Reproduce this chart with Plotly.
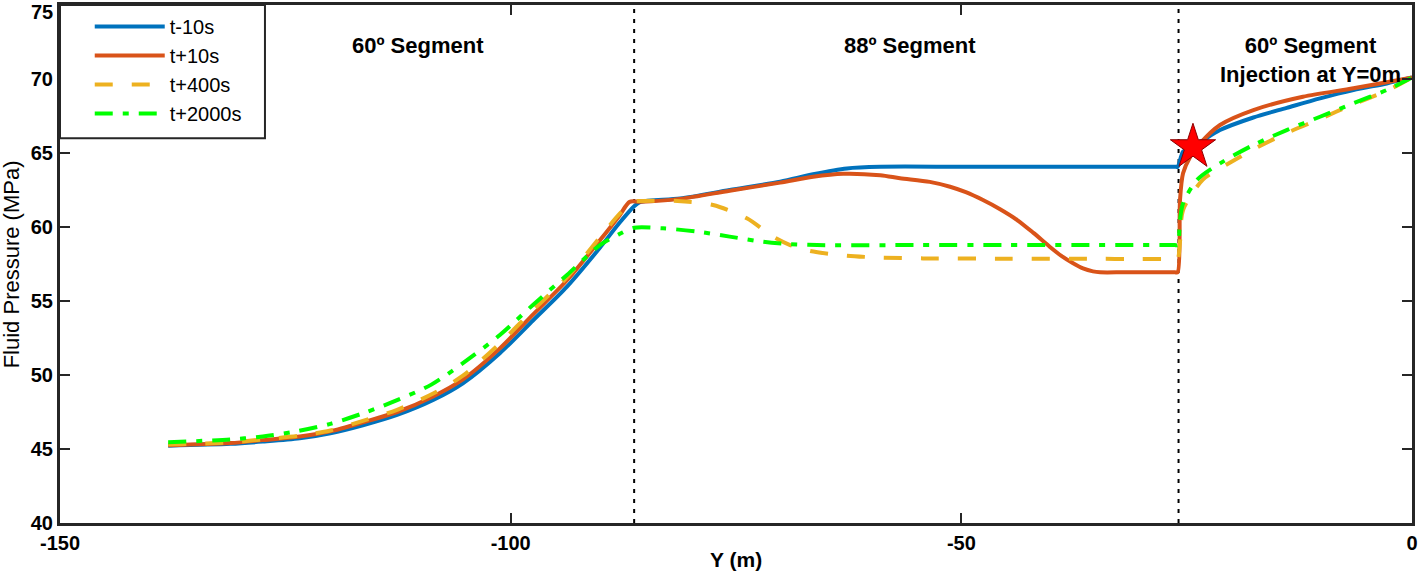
import plotly.graph_objects as go

# ---------------- data ----------------
y_blue = [-138.0, -131.1, -127.5, -123.4, -120.0, -116.4, -112.6, -108.6, -105.3, -101.2, -97.5, -93.75, -90.1, -87.9, -86.3,
          -85.6, -81.2, -75.7, -70.1, -66.45, -62.7, -59.0, -50.0, -40.0, -30.0, -27.0, -26.3, -26.0, -25.7, -25.4, -24.3, -23.2,
          -21.3, -17.6, -13.9, -10.2, -6.5, -2.8, 0.0]
p_blue = [45.22, 45.35, 45.5, 45.72, 46.06, 46.6, 47.3, 48.31, 49.44, 51.47, 53.7, 55.97, 58.6, 60.3, 61.4,
          61.7, 61.93, 62.5, 63.06, 63.56, 63.96, 64.07, 64.07, 64.07, 64.07, 64.07, 64.07, 64.07, 64.6, 65.09, 65.45, 65.85,
          66.55, 67.4, 68.05, 68.69, 69.25, 69.7, 70.1]

y_t10 = [-138.0, -131.1, -127.5, -123.4, -120.0, -116.4, -112.6, -108.6, -105.3, -101.2, -97.5, -93.75, -90.1, -87.9, -86.8,
         -85.6, -81.2, -75.7, -70.1, -66.45, -63.1, -59.0, -56.8, -53.5, -51.25, -49.5, -47.6, -45.7, -43.8, -42.0, -40.2, -38.9,
         -37.6, -36.5, -35.4, -34.6, -32.0, -29.0, -27.0, -26.3, -26.0, -25.74, -25.4, -24.6, -23.5, -21.3, -17.6, -12.1, -6.5, -1.0, 0.0]
p_t10 = [45.25, 45.4, 45.6, 45.85, 46.2, 46.8, 47.5, 48.55, 49.7, 51.8, 54.1, 56.4, 59.1, 60.8, 61.7,
         61.7, 61.9, 62.45, 63.0, 63.4, 63.6, 63.5, 63.3, 63.05, 62.72, 62.35, 61.82, 61.2, 60.47, 59.6, 58.67, 58.05,
         57.55, 57.2, 57.0, 56.94, 56.94, 56.94, 56.94, 56.94, 56.94, 61.82, 63.63, 64.75, 65.65, 66.89, 67.9, 68.8, 69.37, 69.98, 70.1]

y_t400 = [-138.0, -131.1, -127.5, -123.4, -120.0, -116.4, -112.6, -108.6, -105.3, -101.2, -97.5, -93.75, -90.1, -87.9, -86.5,
          -85.6, -81.5, -77.55, -73.8, -70.9, -69.0, -66.8, -62.7, -58.7, -54.25, -45.0, -35.0, -30.0, -27.0, -26.3, -26.0,
          -25.74, -25.4, -23.2, -21.3, -17.6, -13.9, -10.2, -6.5, -2.8, 0.0]
p_t400 = [45.3, 45.45, 45.65, 45.9, 46.25, 46.9, 47.65, 48.75, 49.95, 52.14, 54.4, 56.6, 59.3, 60.9, 61.7,
          61.76, 61.76, 61.49, 60.59, 59.35, 58.78, 58.38, 58.06, 57.93, 57.88, 57.86, 57.85, 57.84, 57.84, 57.84, 57.84,
          59.0, 61.15, 63.2, 63.95, 65.25, 66.35, 67.3, 68.3, 69.2, 70.1]

y_t2000 = [-138.0, -131.1, -127.5, -123.7, -120.0, -116.4, -112.6, -108.8, -105.3, -101.2, -97.5, -93.75, -90.1, -88.0, -86.3,
           -83.1, -79.3, -75.7, -72.0, -69.3, -66.0, -55.0, -45.0, -35.0, -30.0, -27.0, -26.3, -26.0,
           -25.74, -25.4, -23.85, -21.3, -17.6, -13.9, -10.2, -6.5, -2.8, 0.0]
p_t2000 = [45.45, 45.65, 45.85, 46.2, 46.7, 47.41, 48.3, 49.35, 50.8, 52.7, 54.75, 56.76, 58.78, 59.5, 59.95,
           59.91, 59.69, 59.35, 59.0, 58.85, 58.78, 58.78, 58.78, 58.78, 58.78, 58.78, 58.78, 58.78,
           60.47, 61.6, 63.18, 64.3, 65.54, 66.55, 67.45, 68.36, 69.26, 70.1]

star_y = [-24.3]
star_p = [65.4]

boundaries = [-86.3, -25.9]
seg_labels = ["60º Segment", "88º Segment", "60º Segment<br>Injection at Y=0m"]
seg_x = [-110.3, -55.7, -11.3]

x_ticks = [-150, -100, -50, 0]
y_ticks = [40, 45, 50, 55, 60, 65, 70, 75]

FONT = "Arial, Liberation Sans, Helvetica, sans-serif"

# ---------------- figure ----------------
fig = go.Figure()
fig.add_trace(go.Scatter(x=y_blue, y=p_blue, mode="lines", name="t-10s",
                         line=dict(color="#0072BD", width=4, shape="spline", smoothing=0.8)))
fig.add_trace(go.Scatter(x=y_t10, y=p_t10, mode="lines", name="t+10s",
                         line=dict(color="#D95319", width=4, shape="spline", smoothing=0.8)))
fig.add_trace(go.Scatter(x=y_t400, y=p_t400, mode="lines", name="t+400s",
                         line=dict(color="#EDB120", width=4, dash="18px,19px", shape="spline", smoothing=0.8)))
fig.add_trace(go.Scatter(x=y_t2000, y=p_t2000, mode="lines", name="t+2000s",
                         line=dict(color="#00FF00", width=4, dash="18px,10px,6px,10px", shape="spline", smoothing=0.8)))
fig.add_trace(go.Scatter(x=star_y, y=star_p, mode="markers", showlegend=False,
                         marker=dict(symbol="star", size=34, color="#FF0000",
                                     line=dict(color="#8B0000", width=1))))

for b in boundaries:
    fig.add_shape(type="line", x0=b, x1=b, y0=0, y1=1, xref="x", yref="paper",
                  line=dict(color="black", width=2, dash="4px,6px"), layer="below")

# legend frame
fig.add_shape(type="rect", xref="paper", yref="paper", x0=0, x1=0.1516, y0=0.743, y1=1,
              line=dict(color="#262626", width=2), fillcolor="white", layer="above")

for lbl, xx in zip(seg_labels, seg_x):
    fig.add_annotation(x=xx, y=0.95, xref="x", yref="paper", text="<b>" + lbl + "</b>",
                       showarrow=False, yanchor="top", align="center",
                       font=dict(family=FONT, size=22, color="black"))

fig.add_annotation(x=-0.036, y=0.5, xref="paper", yref="paper", text="Fluid Pressure (MPa)",
                   textangle=-90, showarrow=False, xanchor="center", yanchor="middle",
                   font=dict(family=FONT, size=22, color="black"))
fig.add_annotation(x=0.5, y=-0.07, xref="paper", yref="paper", text="<b>Y (m)</b>",
                   showarrow=False, xanchor="center", yanchor="middle",
                   font=dict(family=FONT, size=21, color="black"))

# top y tick label (Plotly drops the edge label at this tight margin)
fig.add_annotation(x=-0.0045, y=0.986, xref="paper", yref="paper", text="<b>" + str(y_ticks[-1]) + "</b>",
                   showarrow=False, xanchor="right", yanchor="middle", borderpad=0,
                   font=dict(family=FONT, size=20, color="black"))

axis_common = dict(showline=True, linecolor="#262626", linewidth=3, mirror="ticks",
                   ticks="inside", ticklen=10, tickwidth=2, tickcolor="#262626",
                   showgrid=False, zeroline=False, automargin=False,
                   tickfont=dict(family=FONT, size=20, color="black", weight="bold"))

fig.update_xaxes(range=[-150, 0], tickvals=x_ticks, ticktext=[str(v) for v in x_ticks], **axis_common)
fig.update_yaxes(range=[40, 75], tickvals=y_ticks[:-1], ticktext=[str(v) for v in y_ticks[:-1]], **axis_common)

fig.update_layout(
    width=1418, height=572,
    margin=dict(l=60, r=6, t=5, b=49, autoexpand=False),
    plot_bgcolor="white", paper_bgcolor="white",
    font=dict(family=FONT, color="black"),
    legend=dict(x=0.022, y=0.996, xanchor="left", yanchor="top", bgcolor="rgba(0,0,0,0)",
                borderwidth=0, itemwidth=70,
                font=dict(family=FONT, size=20, color="black"),
                tracegroupgap=0),
)

fig.write_html("out.html", config={"displayModeBar": False},
               post_script="document.body.style.margin='0';document.body.style.overflow='hidden';")
